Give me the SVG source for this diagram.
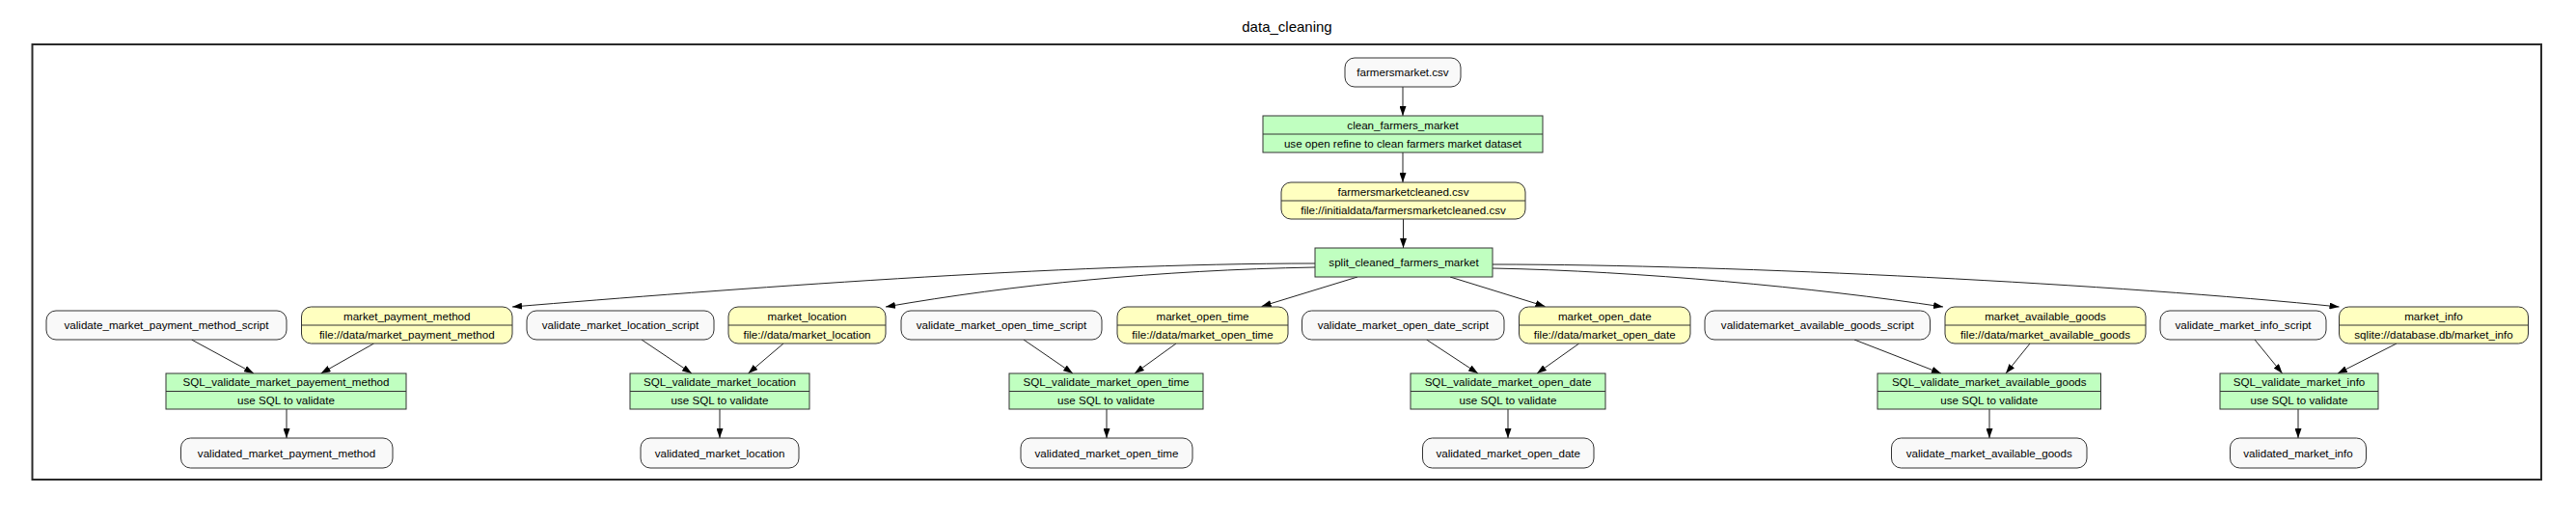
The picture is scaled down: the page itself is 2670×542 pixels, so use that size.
<svg xmlns="http://www.w3.org/2000/svg" width="2670" height="542" viewBox="0 0 2670 542">
<style>
text{font-family:"Liberation Sans",Arial,Helvetica,sans-serif;font-size:11.6px;fill:#000;text-anchor:middle}
.title{font-size:15px}
.w{fill:#f9f9f9;stroke:#333;stroke-width:1}
.g{fill:#c0ffc0;stroke:#333;stroke-width:1}
.y{fill:#ffffc0;stroke:#333;stroke-width:1}
.div{stroke:#333;stroke-width:1}
.e{fill:none;stroke:#222;stroke-width:1;marker-end:url(#arr)}
.cl{fill:none;stroke:#2a2a2a;stroke-width:2}
</style>
<defs>
<marker id="arr" markerUnits="userSpaceOnUse" markerWidth="10" markerHeight="7" refX="10" refY="3.5" orient="auto">
<polygon points="0,0 10,3.5 0,7" fill="#000"/>
</marker>
</defs>
<rect width="2670" height="542" fill="#fff"/>
<g id="cluster_data_cleaning">
<rect class="cl" x="33.5" y="46" width="2600.5" height="451"/>
<text class="title" x="1334" y="33">data_cleaning</text>
</g>
<g id="connectors">
<path class="e" d="M1454,90 L1454,120"/>
<path class="e" d="M1454,158 L1454,189"/>
<path class="e" d="M1454.5,227 L1454.5,257"/>
<path class="e" d="M1363,273 C1100,273 750,300 531,318"/>
<path class="e" d="M1363,277 C1200,280 1050,295 918,318"/>
<path class="e" d="M1407,287 L1307.6,317.5"/>
<path class="e" d="M1503,287 L1601.5,317.5"/>
<path class="e" d="M1547,278 C1700,281 1880,298 2014,318"/>
<path class="e" d="M1547,274 C1800,274 2200,295 2424.5,318"/>
<path class="e" d="M198.6,352 L263,387"/>
<path class="e" d="M387.5,356 L332.6,387"/>
<path class="e" d="M297,424 L297,454"/>
<path class="e" d="M665,352 L717,387"/>
<path class="e" d="M812,356 L775.5,387"/>
<path class="e" d="M746,424 L746,454"/>
<path class="e" d="M1061,352 L1112,387"/>
<path class="e" d="M1219,356 L1176,387"/>
<path class="e" d="M1147,424 L1147,454"/>
<path class="e" d="M1478.6,352 L1532,387"/>
<path class="e" d="M1636.7,356 L1593,387"/>
<path class="e" d="M1563,424 L1563,454"/>
<path class="e" d="M1922,352 L2012,387"/>
<path class="e" d="M2104,356 L2079,387"/>
<path class="e" d="M2062,424 L2062,454"/>
<path class="e" d="M2337,352 L2365.6,387"/>
<path class="e" d="M2484,356 L2423,387"/>
<path class="e" d="M2382,424 L2382,454"/>
</g>
<g id="farmersmarket_csv">
<rect class="w" x="1394" y="60" width="120" height="30" rx="10"/>
<text x="1454" y="79">farmersmarket.csv</text>
</g>
<g id="clean_farmers_market">
<rect class="g" x="1309" y="120" width="290" height="38"/>
<line class="div" x1="1309" y1="139" x2="1599" y2="139"/>
<text x="1454" y="133.5">clean_farmers_market</text>
<text x="1454" y="152.5">use open refine to clean farmers market dataset</text>
</g>
<g id="farmersmarketcleaned_csv">
<rect class="y" x="1328" y="189" width="253" height="38" rx="10"/>
<line class="div" x1="1328" y1="208" x2="1581" y2="208"/>
<text x="1454.5" y="202.5">farmersmarketcleaned.csv</text>
<text x="1454.5" y="221.5">file://initialdata/farmersmarketcleaned.csv</text>
</g>
<g id="split_cleaned_farmers_market">
<rect class="g" x="1363" y="257" width="184" height="30"/>
<text x="1455" y="276">split_cleaned_farmers_market</text>
</g>

<g id="validate_market_payment_method_script">
<rect class="w" x="48" y="322" width="249" height="30" rx="10"/>
<text x="172.5" y="341">validate_market_payment_method_script</text>
</g>
<g id="market_payment_method">
<rect class="y" x="312.5" y="318" width="218.5" height="38" rx="10"/>
<line class="div" x1="312.5" y1="337" x2="531" y2="337"/>
<text x="421.75" y="331.5">market_payment_method</text>
<text x="421.75" y="350.5">file://data/market_payment_method</text>
</g>
<g id="SQL_validate_market_payement_method">
<rect class="g" x="172" y="387" width="249" height="37"/>
<line class="div" x1="172" y1="405.5" x2="421" y2="405.5"/>
<text x="296.5" y="400">SQL_validate_market_payement_method</text>
<text x="296.5" y="419">use SQL to validate</text>
</g>
<g id="validated_market_payment_method">
<rect class="w" x="187.5" y="454" width="219.5" height="31" rx="10"/>
<text x="297" y="473.5">validated_market_payment_method</text>
</g>

<g id="validate_market_location_script">
<rect class="w" x="546" y="322" width="194" height="30" rx="10"/>
<text x="643" y="341">validate_market_location_script</text>
</g>
<g id="market_location">
<rect class="y" x="755" y="318" width="163" height="38" rx="10"/>
<line class="div" x1="755" y1="337" x2="918" y2="337"/>
<text x="836.5" y="331.5">market_location</text>
<text x="836.5" y="350.5">file://data/market_location</text>
</g>
<g id="SQL_validate_market_location">
<rect class="g" x="653" y="387" width="186" height="37"/>
<line class="div" x1="653" y1="405.5" x2="839" y2="405.5"/>
<text x="746" y="400">SQL_validate_market_location</text>
<text x="746" y="419">use SQL to validate</text>
</g>
<g id="validated_market_location">
<rect class="w" x="664" y="454" width="164" height="31" rx="10"/>
<text x="746" y="473.5">validated_market_location</text>
</g>

<g id="validate_market_open_time_script">
<rect class="w" x="934" y="322" width="208" height="30" rx="10"/>
<text x="1038" y="341">validate_market_open_time_script</text>
</g>
<g id="market_open_time">
<rect class="y" x="1158" y="318" width="177" height="38" rx="10"/>
<line class="div" x1="1158" y1="337" x2="1335" y2="337"/>
<text x="1246.5" y="331.5">market_open_time</text>
<text x="1246.5" y="350.5">file://data/market_open_time</text>
</g>
<g id="SQL_validate_market_open_time">
<rect class="g" x="1046" y="387" width="201" height="37"/>
<line class="div" x1="1046" y1="405.5" x2="1247" y2="405.5"/>
<text x="1146.5" y="400">SQL_validate_market_open_time</text>
<text x="1146.5" y="419">use SQL to validate</text>
</g>
<g id="validated_market_open_time">
<rect class="w" x="1058" y="454" width="178" height="31" rx="10"/>
<text x="1147" y="473.5">validated_market_open_time</text>
</g>

<g id="validate_market_open_date_script">
<rect class="w" x="1349.5" y="322" width="209.5" height="30" rx="10"/>
<text x="1454.25" y="341">validate_market_open_date_script</text>
</g>
<g id="market_open_date">
<rect class="y" x="1574.5" y="318" width="177.5" height="38" rx="10"/>
<line class="div" x1="1574.5" y1="337" x2="1752" y2="337"/>
<text x="1663.25" y="331.5">market_open_date</text>
<text x="1663.25" y="350.5">file://data/market_open_date</text>
</g>
<g id="SQL_validate_market_open_date">
<rect class="g" x="1462" y="387" width="202" height="37"/>
<line class="div" x1="1462" y1="405.5" x2="1664" y2="405.5"/>
<text x="1563" y="400">SQL_validate_market_open_date</text>
<text x="1563" y="419">use SQL to validate</text>
</g>
<g id="validated_market_open_date">
<rect class="w" x="1474.5" y="454" width="177.5" height="31" rx="10"/>
<text x="1563.25" y="473.5">validated_market_open_date</text>
</g>

<g id="validatemarket_available_goods_script">
<rect class="w" x="1767" y="322" width="233.5" height="30" rx="10"/>
<text x="1883.75" y="341">validatemarket_available_goods_script</text>
</g>
<g id="market_available_goods">
<rect class="y" x="2016" y="318" width="208" height="38" rx="10"/>
<line class="div" x1="2016" y1="337" x2="2224" y2="337"/>
<text x="2120" y="331.5">market_available_goods</text>
<text x="2120" y="350.5">file://data/market_available_goods</text>
</g>
<g id="SQL_validate_market_available_goods">
<rect class="g" x="1946" y="387" width="231.5" height="37"/>
<line class="div" x1="1946" y1="405.5" x2="2177.5" y2="405.5"/>
<text x="2061.75" y="400">SQL_validate_market_available_goods</text>
<text x="2061.75" y="419">use SQL to validate</text>
</g>
<g id="validate_market_available_goods">
<rect class="w" x="1960.5" y="454" width="202.5" height="31" rx="10"/>
<text x="2061.75" y="473.5">validate_market_available_goods</text>
</g>

<g id="validate_market_info_script">
<rect class="w" x="2239" y="322" width="172" height="30" rx="10"/>
<text x="2325" y="341">validate_market_info_script</text>
</g>
<g id="market_info">
<rect class="y" x="2424.5" y="318" width="196" height="38" rx="10"/>
<line class="div" x1="2424.5" y1="337" x2="2620.5" y2="337"/>
<text x="2522.5" y="331.5">market_info</text>
<text x="2522.5" y="350.5">sqlite://database.db/market_info</text>
</g>
<g id="SQL_validate_market_info">
<rect class="g" x="2301" y="387" width="164" height="37"/>
<line class="div" x1="2301" y1="405.5" x2="2465" y2="405.5"/>
<text x="2383" y="400">SQL_validate_market_info</text>
<text x="2383" y="419">use SQL to validate</text>
</g>
<g id="validated_market_info">
<rect class="w" x="2311.5" y="454" width="141" height="31" rx="10"/>
<text x="2382" y="473.5">validated_market_info</text>
</g>
</svg>
